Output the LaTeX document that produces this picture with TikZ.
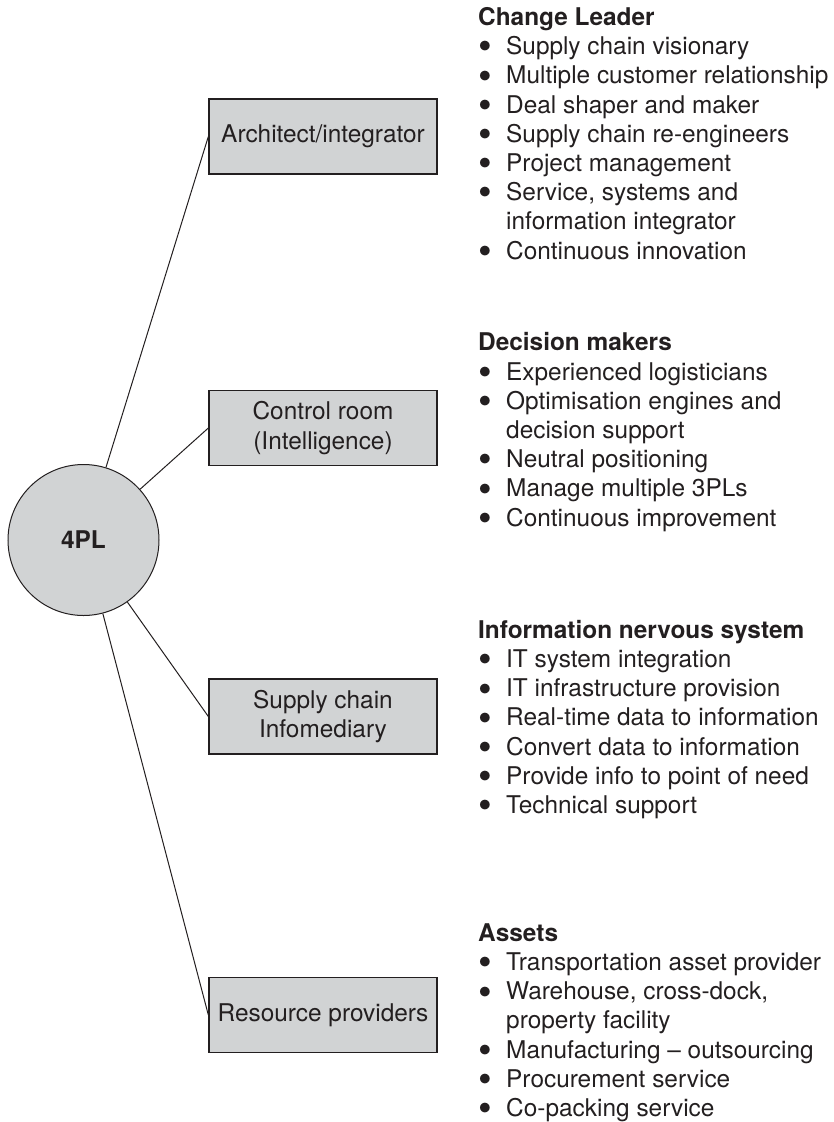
\documentclass[tikz,border=0pt]{standalone}
\usepackage{fontspec}
\setmainfont{TeX Gyre Heros}
\usepackage{tikz}
\usetikzlibrary{positioning}
\definecolor{boxgray}{RGB}{209,211,212}
\definecolor{inkdark}{RGB}{35,31,32}
\newcommand{\bul}{\makebox[28pt][l]{\raisebox{-0.22em}{\scalebox{1.6}{\textbullet}}}}
\newcommand{\cont}{\hspace*{28pt}}

\begin{document}
\begin{tikzpicture}[x=1pt,y=-1pt,
    font=\fontsize{24.4}{29.2}\selectfont, text=inkdark,
    role/.style={draw=inkdark,line width=1.3pt,fill=boxgray,minimum width=228pt,
                 minimum height=75pt,align=center,inner sep=0pt},
    hub/.style={circle,draw=inkdark,line width=1pt,fill=boxgray,
                minimum size=151pt,inner sep=0pt},
    link/.style={draw=inkdark,line width=1pt},
    list/.style={anchor=base west,align=left,inner sep=0pt},
]
\useasboundingbox (0,0) rectangle (833,1122);

% Central hub
\node[hub] (pl) at (83.5,540) {\textbf{4PL}};

% Roles
\node[role] (arch) at (323,136.5) {Architect/integrator};
\node[role] (ctrl) at (323,428)   {Control room\\(Intelligence)};
\node[role] (info) at (323,716.5) {Supply chain\\Infomediary};
\node[role] (res)  at (323,1015)  {Resource providers};

\draw[link] (pl) -- (arch.west);
\draw[link] (pl) -- (ctrl.west);
\draw[link] (pl) -- (info.west);
\draw[link] (pl) -- (res.west);

% Descriptions (placed by the baseline of their last line)
\node[list] (lead) at (478,259) {\textbf{Change Leader}\\
  \bul Supply chain visionary\\
  \bul Multiple customer relationship\\
  \bul Deal shaper and maker\\
  \bul Supply chain re-engineers\\
  \bul Project management\\
  \bul Service, systems and\\
  \cont information integrator\\
  \bul Continuous innovation};

\node[list] (dec) at (478,526) {\textbf{Decision makers}\\
  \bul Experienced logisticians\\
  \bul Optimisation engines and\\
  \cont decision support\\
  \bul Neutral positioning\\
  \bul Manage multiple 3PLs\\
  \bul Continuous improvement};

\node[list] (nerv) at (478,813.5) {\textbf{Information nervous system}\\
  \bul IT system integration\\
  \bul IT infrastructure provision\\
  \bul Real-time data to information\\
  \bul Convert data to information\\
  \bul Provide info to point of need\\
  \bul Technical support};

\node[list] (asset) at (478,1116.5) {\textbf{Assets}\\
  \bul Transportation asset provider\\
  \bul Warehouse, cross-dock,\\
  \cont property facility\\
  \bul Manufacturing – outsourcing\\
  \bul Procurement service\\
  \bul Co-packing service};

\end{tikzpicture}
\end{document}
